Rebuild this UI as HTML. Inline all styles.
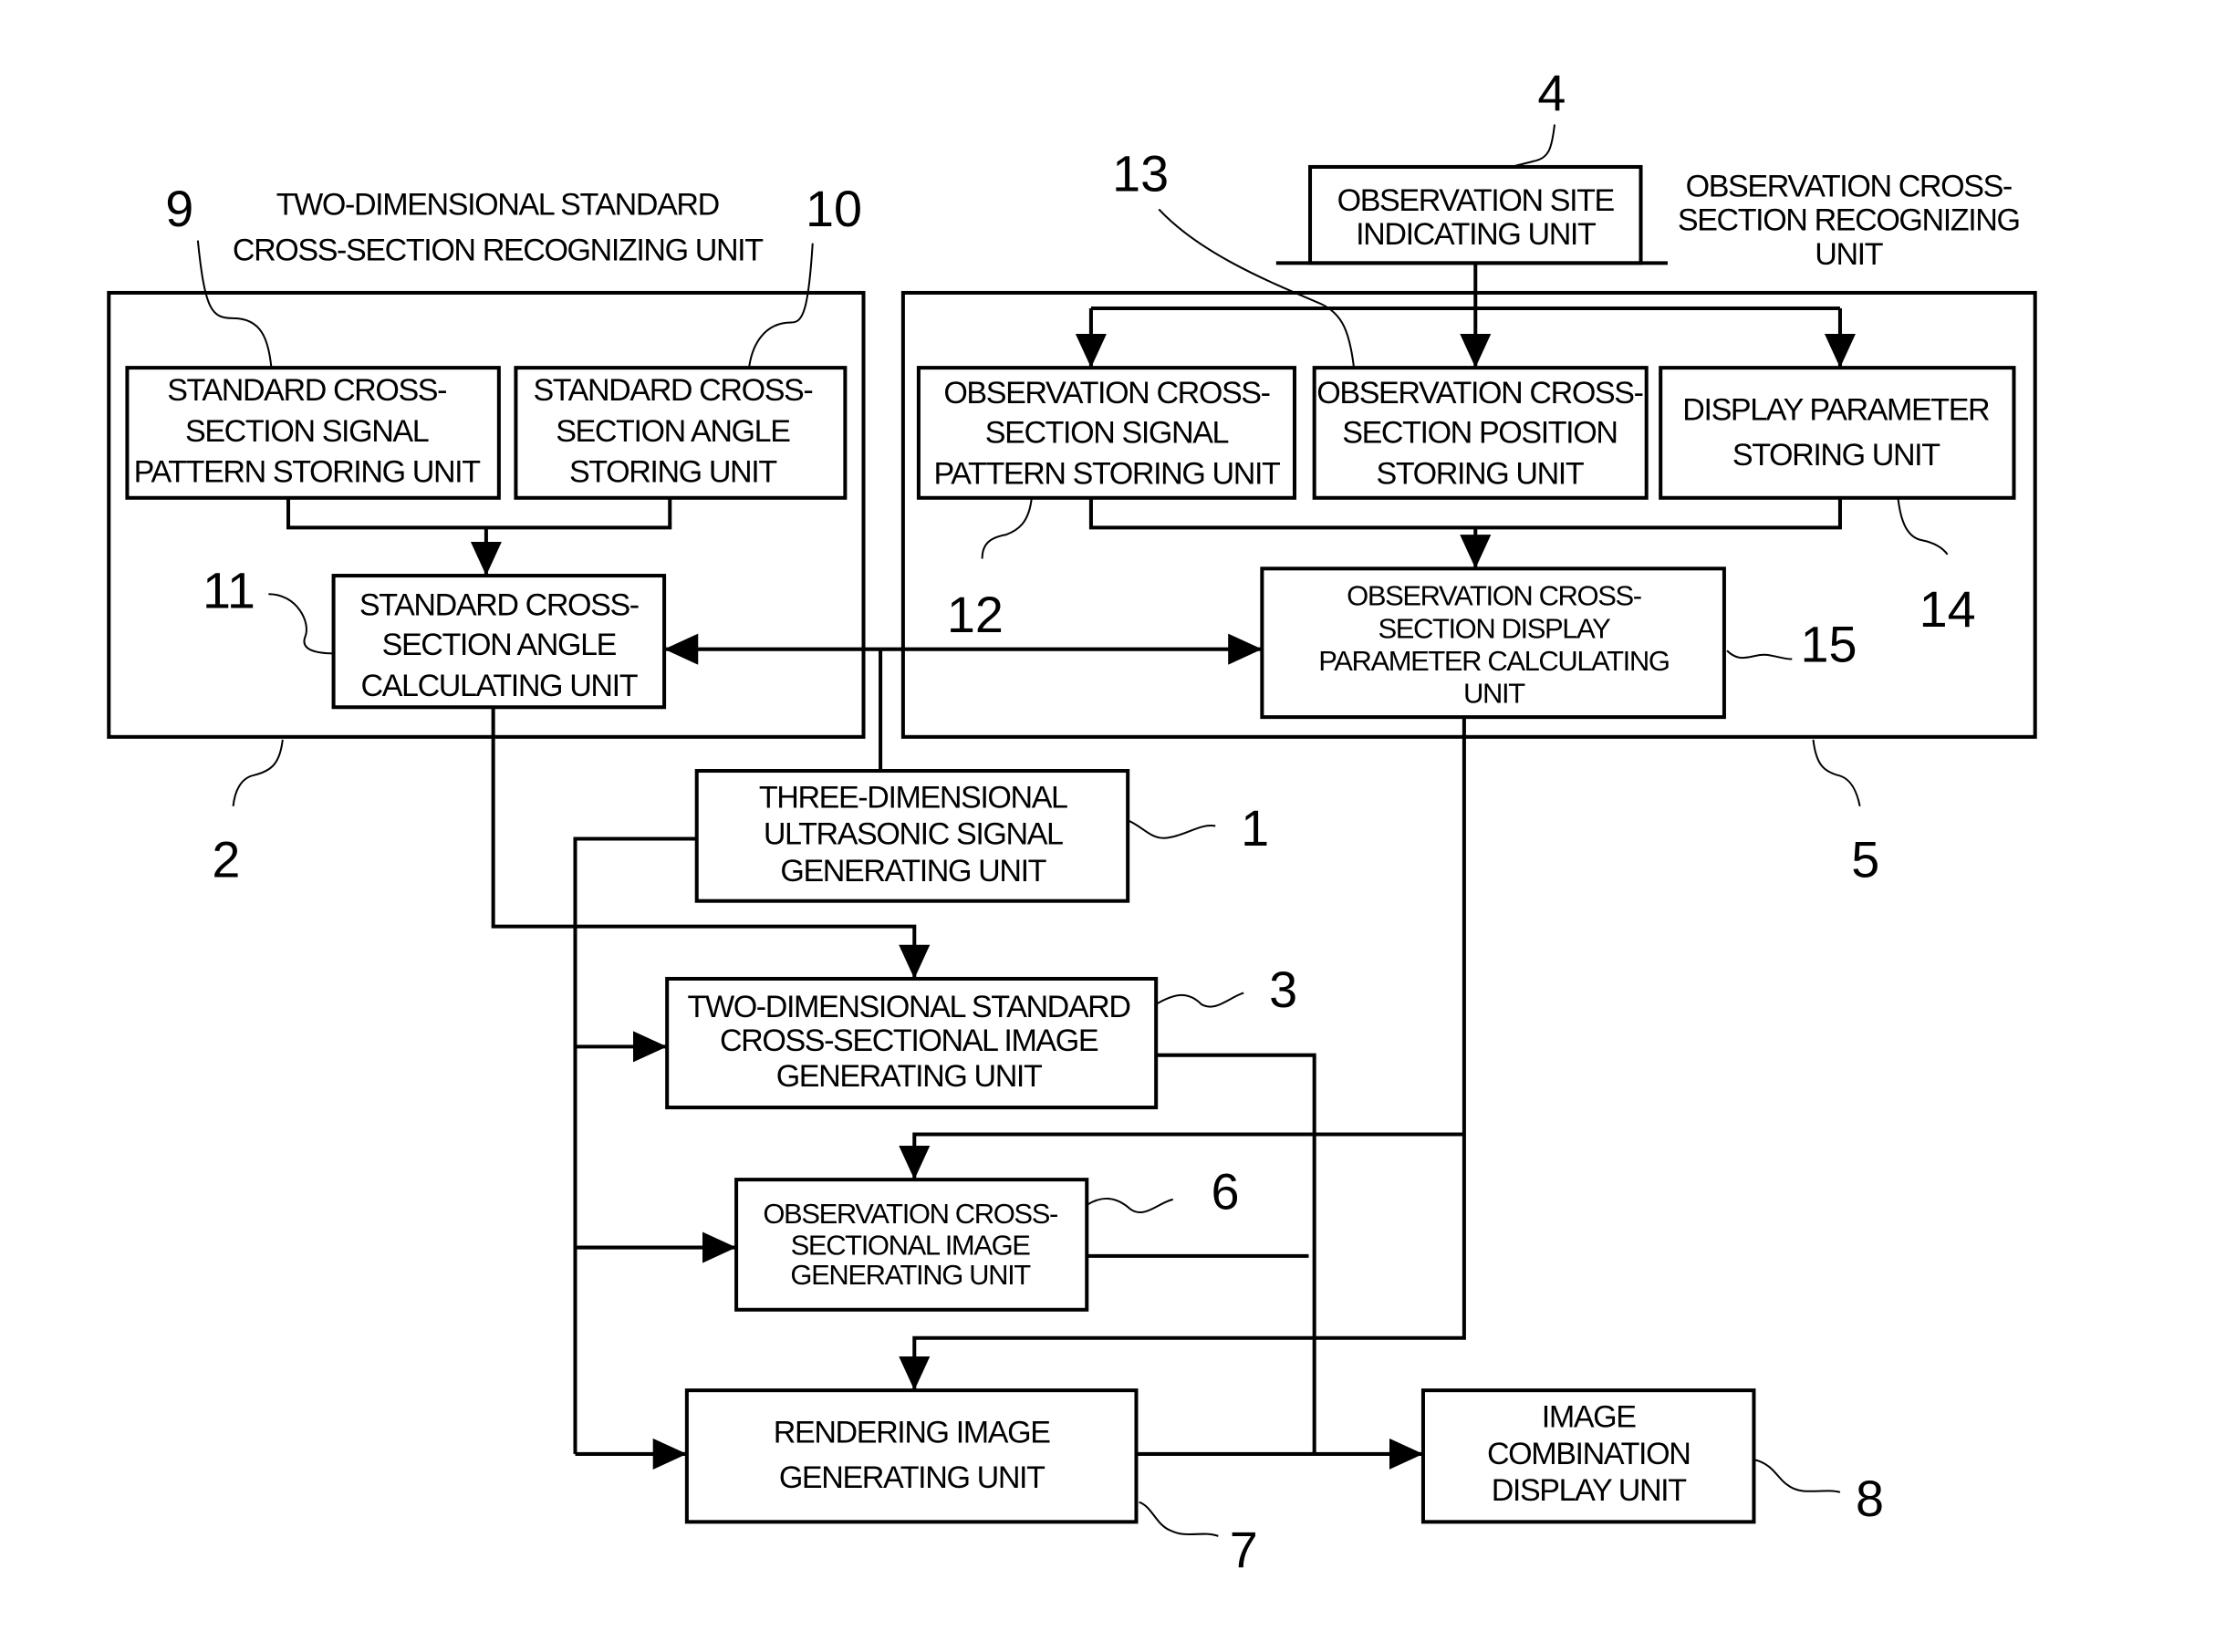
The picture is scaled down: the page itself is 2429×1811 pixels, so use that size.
<!DOCTYPE html>
<html><head><meta charset="utf-8"><style>
html,body{margin:0;padding:0;background:#fff}
svg{display:block}
text{font-family:"Liberation Sans",sans-serif;fill:#000}
.t{font-size:22px;text-anchor:middle;letter-spacing:-0.9px}
.s{font-size:20px;text-anchor:middle;letter-spacing:-0.9px}
.n{font-size:36px;text-anchor:middle}
</style></head><body>
<svg width="2429" height="1811" viewBox="0 0 1568 1168" preserveAspectRatio="none" xmlns="http://www.w3.org/2000/svg">
<defs>
<marker id="a" markerUnits="userSpaceOnUse" markerWidth="26" markerHeight="22" refX="24" refY="11" orient="auto">
<path d="M0,0 L24,11 L0,22 Z" fill="#000"/></marker>
</defs>
<g fill="none" stroke="#000" stroke-width="2.6">
<rect x="77" y="207" width="534" height="314"/>
<rect x="639" y="207" width="801" height="314"/>
<rect x="90" y="260" width="263" height="92"/>
<rect x="365" y="260" width="233" height="92"/>
<rect x="236" y="407" width="234" height="93"/>
<rect x="650" y="260" width="266" height="92"/>
<rect x="930" y="260" width="235" height="92"/>
<rect x="1175" y="260" width="250" height="92"/>
<rect x="927" y="118" width="234" height="68"/>
<rect x="893" y="402" width="327" height="105"/>
<rect x="493" y="545" width="305" height="92"/>
<rect x="472" y="692" width="346" height="91"/>
<rect x="521" y="834" width="248" height="92"/>
<rect x="486" y="983" width="318" height="93"/>
<rect x="1007" y="983" width="234" height="93"/>
<line x1="903" y1="186" x2="1180" y2="186"/>
<path d="M204,352 V373 H474 V352"/>
<path d="M344,373 V407" marker-end="url(#a)"/>
<path d="M1044,186 V260" marker-end="url(#a)"/>
<path d="M772,218 H1302"/>
<path d="M772,218 V260" marker-end="url(#a)"/>
<path d="M1302,218 V260" marker-end="url(#a)"/>
<path d="M772,352 V373 H1302 V352"/>
<path d="M1044,373 V402" marker-end="url(#a)"/>
<path d="M623,459 H893" marker-end="url(#a)"/>
<path d="M623,459 H470" marker-end="url(#a)"/>
<path d="M623,459 V545"/>
<path d="M349,500 V655 H647 V692" marker-end="url(#a)"/>
<path d="M493,593 H407 V1028"/>
<path d="M407,740 H472" marker-end="url(#a)"/>
<path d="M407,882 H521" marker-end="url(#a)"/>
<path d="M407,1028 H486" marker-end="url(#a)"/>
<path d="M1036,507 V946 H647 V983" marker-end="url(#a)"/>
<path d="M1036,802 H647 V834" marker-end="url(#a)"/>
<path d="M818,746 H930 V1028"/>
<path d="M769,888 H926"/>
<path d="M804,1028 H1007" marker-end="url(#a)"/>
</g>
<g fill="none" stroke="#000" stroke-width="1.3">
<path d="M140,170 C145,220 150,225 165,225 C185,225 190,240 192,260"/>
<path d="M575,172 C572,220 568,228 560,228 C540,228 532,245 530,260"/>
<path d="M190,420 C210,420 220,440 216,450 C212,460 225,462 236,462"/>
<path d="M730,352 C728,370 720,375 712,378 C700,380 695,385 695,395"/>
<path d="M820,148 C850,180 900,200 935,215 C950,222 955,235 958,260"/>
<path d="M1100,88 C1098,105 1096,112 1085,114 C1078,116 1072,117 1070,118"/>
<path d="M1343,352 C1345,370 1350,380 1360,382 C1370,384 1375,388 1378,392"/>
<path d="M1222,460 C1232,470 1240,462 1250,463 C1258,464 1262,466 1268,466"/>
<path d="M200,523 C198,540 192,545 180,548 C170,550 166,560 165,570"/>
<path d="M1283,523 C1285,540 1290,545 1300,548 C1310,550 1314,560 1316,570"/>
<path d="M798,580 C810,585 815,595 828,592 C840,590 850,582 860,584"/>
<path d="M818,710 C830,703 840,700 850,710 C860,716 870,705 880,702"/>
<path d="M769,852 C780,845 790,846 800,855 C810,862 820,850 830,848"/>
<path d="M806,1062 C815,1065 818,1078 828,1082 C840,1088 850,1082 862,1086"/>
<path d="M1241,1032 C1255,1035 1258,1046 1265,1050 C1275,1058 1290,1052 1302,1055"/>
</g>
<text class="t" x="352" y="152">TWO-DIMENSIONAL STANDARD</text>
<text class="t" x="352" y="184">CROSS-SECTION RECOGNIZING UNIT</text>
<text class="t" x="1308" y="139">OBSERVATION CROSS-</text>
<text class="t" x="1308" y="163">SECTION RECOGNIZING</text>
<text class="t" x="1308" y="187">UNIT</text>
<text class="t" x="217" y="283">STANDARD CROSS-</text>
<text class="t" x="217" y="312">SECTION SIGNAL</text>
<text class="t" x="217" y="341">PATTERN STORING UNIT</text>
<text class="t" x="476" y="283">STANDARD CROSS-</text>
<text class="t" x="476" y="312">SECTION ANGLE</text>
<text class="t" x="476" y="341">STORING UNIT</text>
<text class="t" x="353" y="435">STANDARD CROSS-</text>
<text class="t" x="353" y="463">SECTION ANGLE</text>
<text class="t" x="353" y="492">CALCULATING UNIT</text>
<text class="t" x="783" y="285">OBSERVATION CROSS-</text>
<text class="t" x="783" y="313">SECTION SIGNAL</text>
<text class="t" x="783" y="342">PATTERN STORING UNIT</text>
<text class="t" x="1047" y="285">OBSERVATION CROSS-</text>
<text class="t" x="1047" y="313">SECTION POSITION</text>
<text class="t" x="1047" y="342">STORING UNIT</text>
<text class="t" x="1299" y="297">DISPLAY PARAMETER</text>
<text class="t" x="1299" y="329">STORING UNIT</text>
<text class="t" x="1044" y="149">OBSERVATION SITE</text>
<text class="t" x="1044" y="173">INDICATING UNIT</text>
<text class="s" x="1057" y="428">OBSERVATION CROSS-</text>
<text class="s" x="1057" y="451">SECTION DISPLAY</text>
<text class="s" x="1057" y="474">PARAMETER CALCULATING</text>
<text class="s" x="1057" y="497">UNIT</text>
<text class="t" x="646" y="571">THREE-DIMENSIONAL</text>
<text class="t" x="646" y="597">ULTRASONIC SIGNAL</text>
<text class="t" x="646" y="623">GENERATING UNIT</text>
<text class="t" x="643" y="719">TWO-DIMENSIONAL STANDARD</text>
<text class="t" x="643" y="743">CROSS-SECTIONAL IMAGE</text>
<text class="t" x="643" y="768">GENERATING UNIT</text>
<text class="s" x="644" y="865">OBSERVATION CROSS-</text>
<text class="s" x="644" y="887">SECTIONAL IMAGE</text>
<text class="s" x="644" y="908">GENERATING UNIT</text>
<text class="t" x="645" y="1020">RENDERING IMAGE</text>
<text class="t" x="645" y="1052">GENERATING UNIT</text>
<text class="t" x="1124" y="1009">IMAGE</text>
<text class="t" x="1124" y="1035">COMBINATION</text>
<text class="t" x="1124" y="1061">DISPLAY UNIT</text>
<text class="n" x="127" y="160">9</text>
<text class="n" x="590" y="160">10</text>
<text class="n" x="162" y="430">11</text>
<text class="n" x="690" y="447">12</text>
<text class="n" x="807" y="135">13</text>
<text class="n" x="1098" y="78">4</text>
<text class="n" x="1378" y="443">14</text>
<text class="n" x="1294" y="468">15</text>
<text class="n" x="160" y="620">2</text>
<text class="n" x="1320" y="620">5</text>
<text class="n" x="888" y="598">1</text>
<text class="n" x="908" y="712">3</text>
<text class="n" x="867" y="855">6</text>
<text class="n" x="880" y="1108">7</text>
<text class="n" x="1323" y="1072">8</text>
</svg>
</body></html>
